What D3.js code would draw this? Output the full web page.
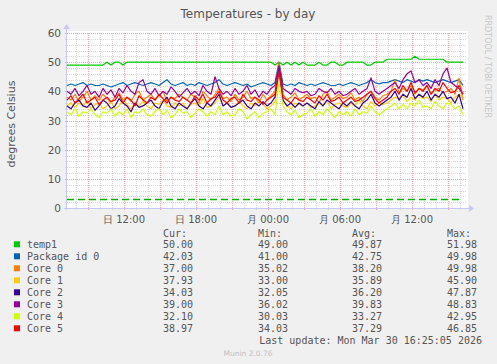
<!DOCTYPE html>
<html>
<head>
<meta charset="utf-8">
<script src="https://cdn.jsdelivr.net/npm/d3@7"></script>
<style>
  body { margin: 0; background: #f0f0f0; }
  svg { display: block; }
</style>
</head>
<body>
<svg id="chart" width="497" height="364"></svg>
<script>

// samples every 20 minutes, starting Sun 29 Mar 2026 07:15
const startTime = new Date(2026, 2, 29, 7, 15);
const stepMinutes = 20;

const temp1 = [
  49,49,49,49,49,49,49,49,49,49,
  50,49,50,50,49,50,
  50,50,50,50,50,50,50,50,50,50,50,50,50,50,50,50,50,50,
  50,50,50,50,50,50,50,50,50,50,50,50,50,50,50,50,50,50,
  49,50,49,50,49,50,49,50,49,49,
  49,50,49,49,50,50,49,49,
  50,50,50,50,50,
  49,49,
  50,50,50,
  51,51,51,51,51,51,51,
  52,
  51,51,51,51,51,51,51,
  50,50,50,50,50
];

const package0 = [
  42,42.5,42,42.5,43,42,42.5,42,42,42.5,
  42,41.5,42,42.5,43,42,42.5,43,42.5,42,
  42.5,43,42.5,42,43,44,42.5,42,42.5,43,
  42,42.5,42,43,42.5,42,42.5,43,44,42.5,
  42,42.5,43,42.5,42,42.5,41.5,42,42.5,43,
  42.5,42,43,49.98,42.5,42,42.5,42,43,42.5,
  42,42.5,42,42.5,43,42.5,42,42,42.5,42,
  42.5,43,42.5,42,42.5,43,44,43,42.5,43,
  43,43.5,44,43.5,43,44,43.5,43,44,43.5,
  44,43.5,43,43.5,44,43.5,43,43.5,44,42.03
];

const core0 = [
  38,37,39,36.5,38,40,37,38.5,37,39,
  37.5,36,38,39.5,37,38,36.5,39,40,37,
  38,39,37,38.5,40,36.5,38,37.5,39,38,
  37,39,38,36,40,38.5,37,39,41,37.5,
  38,36.5,39,37,38,40,37.5,38,36,39,
  37,38.5,40,49.98,39,37,38,39.5,37,38,
  39,37.5,38,36,39,40,37,38,39,37.5,
  38,39.5,37,38,36.5,39,40,38,37,38.5,
  39,40,44,39.5,41,40,42,39,41,40.5,
  42,39,40.5,41,39.5,40,41,39,44.5,37
];

const core1 = [
  35,36,34.5,36,35,37,34,35.5,36,34,
  35,36.5,34,35,37,35.5,34,36,35,36.5,
  35,34,36,35.5,37,35,34.5,36,35,36,
  34,35.5,36,35,37.5,34.5,35,36,38,35,
  36,34.5,35,36.5,35,34,36,35,37,35.5,
  34,35,36.5,45.9,37,35,34,36,35.5,35,
  36,34.5,35,36,35,37,34,35.5,36,35,
  34.5,36,35,37,35,34,36.5,35,36,35.5,
  36,37,38,37.5,39,36.5,38,37,39,37.5,
  38,36.5,39,37,38,37.5,36,38,39,37.93
];

const core2 = [
  35,34,36,37,35,34.5,36,33.5,35,37,
  36,34,35,37.5,36,35,33,36,34.5,35,
  36,37,35,34,36.5,38,35,34,36,35,
  34,36,37.5,35,34,36,35,37,39,35,
  36,34.5,35,36,37,35,34,36,35,36.5,
  35,36,38,47.87,37,35,36,34.5,36,35,
  36,35,34,36.5,35,37,36,35,34,36,
  35,36.5,35,34,36,37,39,36,35,36,
  37,38,40,37,39,38,41,37.5,39,38,
  40,37,39,38,40,37.5,38,36,39,34.03
];

const core3 = [
  40,39,41,38.5,40,42,39,40,38,41,
  39,40.5,38,41,39.5,42,40,39,43,44,
  40,39,41,38.5,40,39,41.5,40,38,39.5,
  41,39,40,38.5,42,40,39,45,41,39,
  40,38.5,41,39,40,42,39,40.5,38,40,
  39,41,42,48.83,41,40,39,41,40,39.5,
  40,38.5,39,41,40,39.5,41,39,40,38.5,
  39,40,41,39,40,41,44.6,40,39,40,
  41,42,43,41,44,46,47,43,44,42,
  43,41,44,42,46,48,43,42,41,39
];

const core4 = [
  33,32,34,31.5,33,32.5,34,32,31,33,
  32.5,34,31.5,33,32,34,31,33,32.5,34,
  32,31.5,33,34,32,33.5,31,32,34,32.5,
  33,31,32.5,34,33,31.5,33,32,35,32,
  33,31.5,32,34,33,30.5,32,33,31,32.5,
  33,34,32,42.95,35,33,32,33.5,31,32,
  32.5,34,31.5,33,32,34,32.5,31,33,32,
  33,31.5,34,32,33,32.5,35,33,32,33,
  34,35,36,34,35.5,34,36,35,37,34.5,
  35,34,36.5,35,34,36,35.5,34,35,32.1
];

const core5 = [
  37,38.5,36,37.5,39,36,37,38,35.5,37,
  38,36.5,37,39,36,38,37,35,38.5,37,
  36,38,37,39,37.5,36,38,37,36.5,38,
  37,36,38.5,37,39,36,37.5,38,40,37,
  36,37.5,38,36,39,37,36.5,38,37,35.5,
  37,38,39,46.85,38,37,36,38,37,36.5,
  38,37,36,38.5,37,39,36.5,37,38,36,
  37,38,36.5,37,38,39,40,37.5,36,37,
  38,40,41,39,42,40,43,39.5,41,40,
  42,39,41,40,43,41,39.5,40,42,38.97
];

// dashed line near the bottom of the graph
const dashedLevel = 3;

const seriesNames = ["temp1", "Package id 0", "Core 0", "Core 1", "Core 2", "Core 3", "Core 4", "Core 5"];
const seriesColors = ["#00cc00", "#0066b3", "#ff8000", "#ffcc00", "#330099", "#990099", "#ccff00", "#ff0000"];
const curValues = ["50.00", "42.03", "37.00", "37.93", "34.03", "39.00", "32.10", "38.97"];
const minValues = ["49.00", "41.00", "35.02", "33.00", "32.05", "36.02", "30.03", "34.03"];
const avgValues = ["49.87", "42.75", "38.20", "35.89", "36.20", "39.83", "33.27", "37.29"];
const maxValues = ["51.98", "49.98", "49.98", "45.90", "47.87", "48.83", "42.95", "46.85"];

const yTicks = [0, 10, 20, 30, 40, 50, 60];
const weekdays = ["日", "月", "火", "水", "木", "金", "土"];

const svg = d3.select("#chart");

const plotLeft = 67, plotRight = 467, plotTop = 33, plotBottom = 208;

const x = d3.scaleTime()
  .domain([startTime, new Date(2026, 2, 30, 16, 35)])
  .range([plotLeft, plotRight]);

const y = d3.scaleLinear()
  .domain([0, 60])
  .range([plotBottom, plotTop]);

const timeAt = i => new Date(startTime.getTime() + i * stepMinutes * 60000);

// canvas
svg.append("rect")
  .attr("x", plotLeft - 1).attr("y", plotTop - 2)
  .attr("width", plotRight - plotLeft + 2).attr("height", plotBottom - plotTop + 2)
  .attr("fill", "#ffffff");

// grid
const grid = svg.append("g");

d3.range(0, 61, 2).forEach(v => {
  if (v % 10 === 0) return;
  grid.append("line")
    .attr("x1", plotLeft - 2).attr("x2", plotRight)
    .attr("y1", Math.round(y(v)) + 0.5).attr("y2", Math.round(y(v)) + 0.5)
    .attr("stroke", "#d8d8d8").attr("stroke-dasharray", "1,1");
});

x.ticks(d3.timeHour.every(1)).forEach(t => {
  if (t.getHours() % 3 === 0) return;
  grid.append("line")
    .attr("x1", Math.round(x(t)) + 0.5).attr("x2", Math.round(x(t)) + 0.5)
    .attr("y1", plotTop).attr("y2", plotBottom + 2)
    .attr("stroke", "#d8d8d8").attr("stroke-dasharray", "1,1");
});

yTicks.forEach(v => {
  grid.append("line")
    .attr("x1", plotLeft - 2).attr("x2", plotRight)
    .attr("y1", Math.round(y(v)) + 0.5).attr("y2", Math.round(y(v)) + 0.5)
    .attr("stroke", "#f4a0a0").attr("stroke-dasharray", "1,1");
});

x.ticks(d3.timeHour.every(3)).forEach(t => {
  grid.append("line")
    .attr("x1", Math.round(x(t)) + 0.5).attr("x2", Math.round(x(t)) + 0.5)
    .attr("y1", plotTop).attr("y2", plotBottom + 3)
    .attr("stroke", "#f4a0a0").attr("stroke-dasharray", "1,1");
});

// axes
const axisColor = "#c8c8f4";
svg.append("line")
  .attr("x1", plotLeft - 0.5).attr("x2", plotLeft - 0.5)
  .attr("y1", plotBottom + 2).attr("y2", plotTop - 6)
  .attr("stroke", axisColor);
svg.append("path")
  .attr("d", `M${plotLeft - 4},${plotTop - 4} L${plotLeft - 0.5},${plotTop - 9} L${plotLeft + 3},${plotTop - 4} Z`)
  .attr("fill", axisColor);
svg.append("line")
  .attr("x1", plotLeft - 3).attr("x2", plotRight + 3)
  .attr("y1", plotBottom + 0.5).attr("y2", plotBottom + 0.5)
  .attr("stroke", axisColor);
svg.append("path")
  .attr("d", `M${plotRight + 2},${plotBottom - 3} L${plotRight + 7},${plotBottom + 0.5} L${plotRight + 2},${plotBottom + 4} Z`)
  .attr("fill", axisColor);

// tick labels
svg.append("g")
  .selectAll("text")
  .data(yTicks)
  .join("text")
  .attr("x", plotLeft - 6)
  .attr("y", d => y(d) + 4)
  .attr("text-anchor", "end")
  .attr("font-family", "DejaVu Sans")
  .attr("font-size", 10.5)
  .attr("fill", "#555")
  .text(d => d);

svg.append("g")
  .selectAll("text")
  .data(x.ticks(d3.timeHour.every(6)))
  .join("text")
  .attr("x", d => x(d))
  .attr("y", 223)
  .attr("text-anchor", "middle")
  .attr("font-family", "DejaVu Sans")
  .attr("font-size", 10)
  .attr("fill", "#555")
  .text(d => weekdays[d.getDay()] + " " + d3.timeFormat("%H:%M")(d));

// dashed line
svg.append("line")
  .attr("x1", plotLeft).attr("x2", x(timeAt(temp1.length - 1)))
  .attr("y1", Math.round(y(dashedLevel)) + 0.5).attr("y2", Math.round(y(dashedLevel)) + 0.5)
  .attr("stroke", "#00b000")
  .attr("stroke-width", 1.5)
  .attr("stroke-dasharray", "7,4");

// series
const allSeries = [temp1, package0, core0, core1, core2, core3, core4, core5];

const line = d3.line()
  .x((d, i) => x(timeAt(i)))
  .y(d => y(d));

svg.append("g")
  .selectAll("path")
  .data(allSeries)
  .join("path")
  .attr("d", d => line(d))
  .attr("fill", "none")
  .attr("stroke", (d, i) => seriesColors[i])
  .attr("stroke-width", 1.2)
  .attr("stroke-linejoin", "round");

// title and side labels
svg.append("text")
  .attr("x", 248).attr("y", 18)
  .attr("text-anchor", "middle")
  .attr("font-family", "DejaVu Sans")
  .attr("font-size", 12)
  .attr("fill", "#555")
  .text("Temperatures - by day");

svg.append("text")
  .attr("transform", "translate(15,124) rotate(-90)")
  .attr("text-anchor", "middle")
  .attr("font-family", "DejaVu Sans")
  .attr("font-size", 11)
  .attr("fill", "#555")
  .text("degrees Celsius");

svg.append("text")
  .attr("transform", "translate(485,15) rotate(90)")
  .attr("font-family", "DejaVu Sans")
  .attr("font-size", 8)
  .attr("fill", "#c8c8c8")
  .text("RRDTOOL / TOBI OETIKER");

// legend
const mono = "DejaVu Sans Mono";
const legend = svg.append("g")
  .attr("font-family", mono)
  .attr("font-size", 10)
  .attr("fill", "#555");

const colX = [163, 258, 352, 447];
const colEnd = [193, 288, 382, 477];
["Cur:", "Min:", "Avg:", "Max:"].forEach((h, j) => {
  legend.append("text").attr("x", colX[j]).attr("y", 236.5).text(h);
});

seriesNames.forEach((name, i) => {
  const cy = 244.8 + i * 12;
  legend.append("rect")
    .attr("x", 14).attr("y", cy - 3.5)
    .attr("width", 6).attr("height", 6)
    .attr("fill", seriesColors[i]);
  legend.append("text").attr("x", 27).attr("y", cy + 3.5).text(name);
  [curValues, minValues, avgValues, maxValues].forEach((vals, j) => {
    legend.append("text")
      .attr("x", colEnd[j]).attr("y", cy + 3.5)
      .attr("text-anchor", "end")
      .text(vals[i]);
  });
});

legend.append("text")
  .attr("x", 482).attr("y", 344)
  .attr("text-anchor", "end")
  .text("Last update: Mon Mar 30 16:25:05 2026");

svg.append("text")
  .attr("x", 248).attr("y", 356)
  .attr("text-anchor", "middle")
  .attr("font-family", "DejaVu Sans")
  .attr("font-size", 7.5)
  .attr("fill", "#c0c0c0")
  .text("Munin 2.0.76");

</script>
</body>
</html>
